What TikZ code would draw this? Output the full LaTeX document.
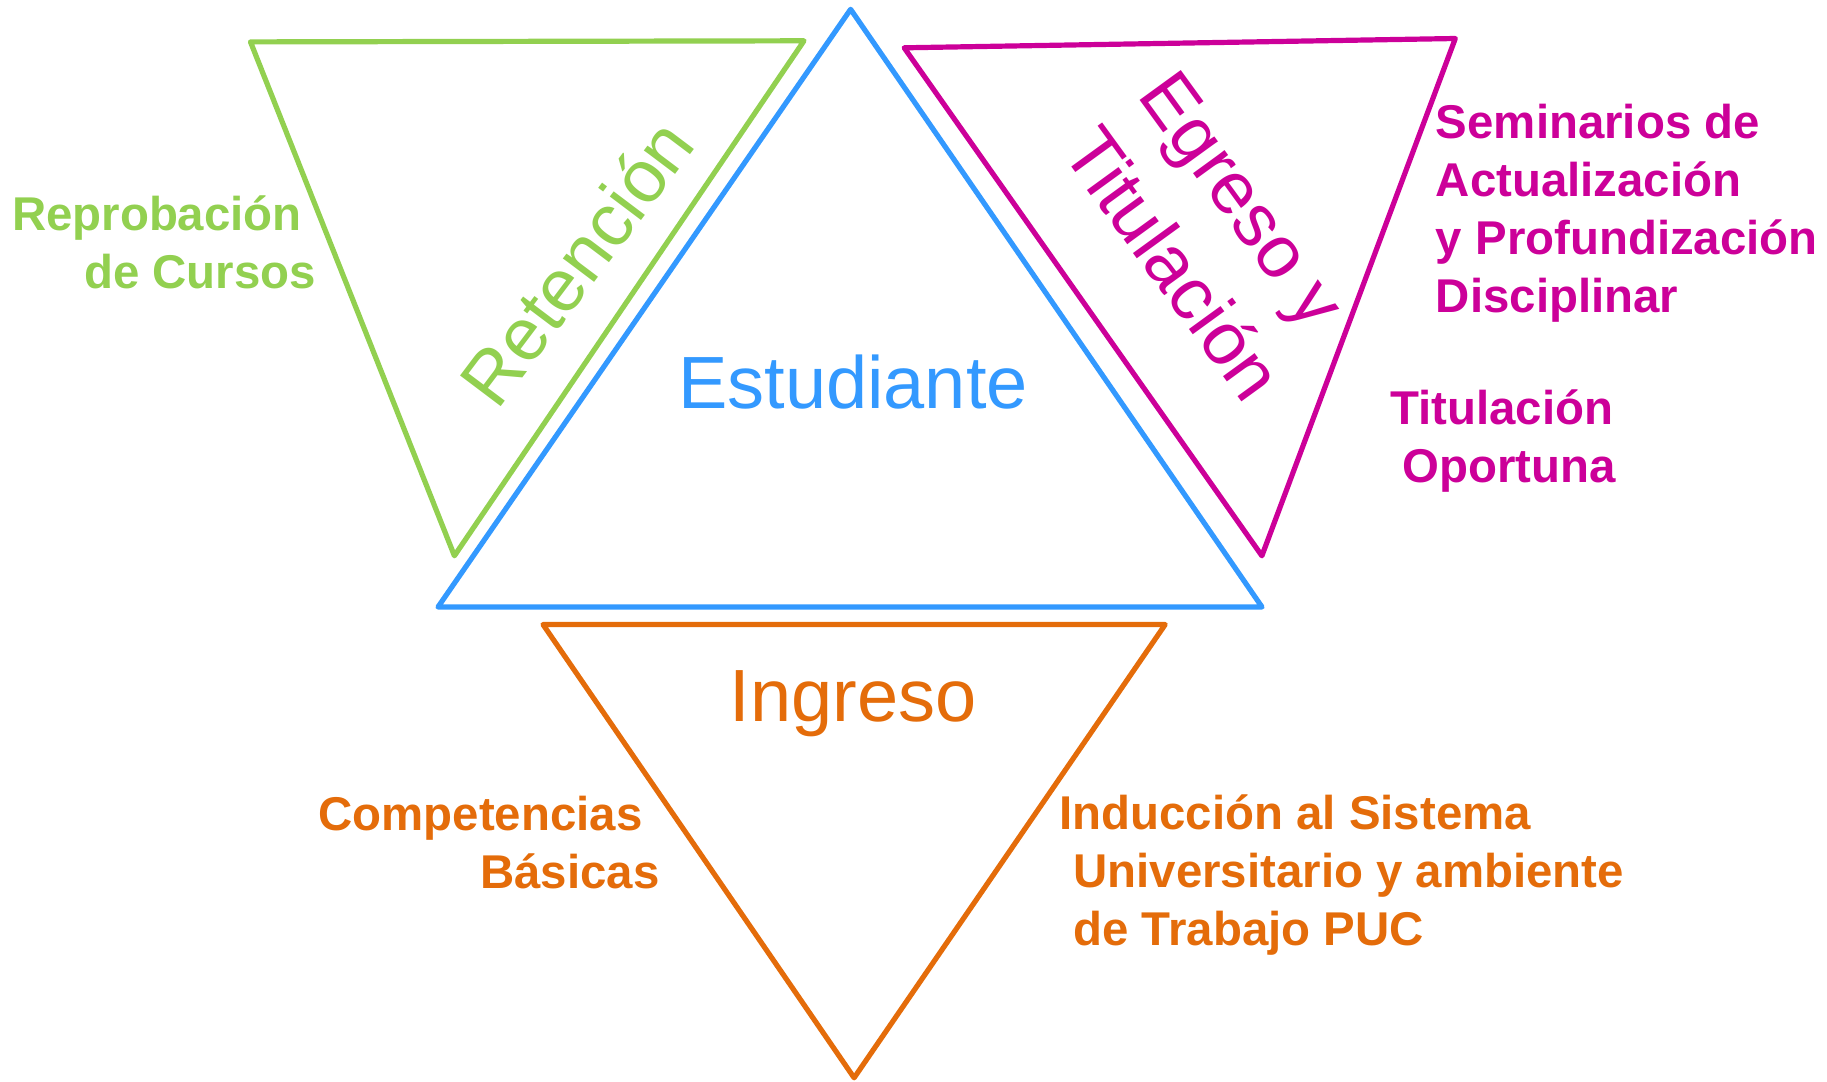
\documentclass[tikz,border=0pt]{standalone}
\usepackage{fontspec}
\setmainfont{Liberation Sans}
\definecolor{verde}{RGB}{146,208,80}
\definecolor{azul}{RGB}{51,153,255}
\definecolor{rosa}{RGB}{204,0,153}
\definecolor{naranja}{RGB}{228,108,10}

\begin{document}
\begin{tikzpicture}[x=0.5pt,y=-0.5pt]
\tikzstyle{tri} = [line width=2.6pt, line join=round]
\tikzstyle{big} = [font=\fontsize{37}{44}\selectfont, inner sep=0pt]
\tikzstyle{rot} = [font=\fontsize{37}{47.5}\selectfont, inner sep=0pt, align=left]
\tikzstyle{note} = [font=\bfseries\fontsize{23.7}{29}\selectfont, inner sep=0pt, align=left, anchor=base west]
\useasboundingbox (0,0) rectangle (1827,1082);
% vertices
\coordinate (ET) at (850.6,9.3);
\coordinate (EL) at (438,607);
\coordinate (ER) at (1262,607);
\coordinate (RL) at (250.5,41.9);
\coordinate (RR) at (804,40.8);
\coordinate (RB) at (454.4,555.8);
\coordinate (GL) at (904.2,47.8);
\coordinate (GR) at (1455.3,38.5);
\coordinate (GB) at (1261.9,555.8);
\coordinate (IL) at (543,624.5);
\coordinate (IR) at (1165.2,624.5);
\coordinate (IB) at (854.1,1077.8);
% triangles
\draw[tri,azul] (ET) -- (EL) -- (ER) -- cycle;
\draw[tri,verde] (RL) -- (RR) -- (RB) -- cycle;
\draw[tri,rosa] (GL) -- (GR) -- (GB) -- cycle;
\draw[tri,naranja] (IL) -- (IR) -- (IB) -- cycle;
% titles
\node[big,azul] (Est) at (853,382) {Estudiante};
\node[big,naranja] (Ing) at (853,704) {Ingreso};
\node[rot,verde,rotate=53] (Ret) at (576,262) {Retención};
\node[rot,rosa,rotate=-54] (Egr) at (1211,236) {Egreso y\\Titulación};
% notes (anchored at the last line)
\node[note,verde] (Rep) at (11.7,288) {Reprobación\\\hspace*{36pt}de Cursos};
\node[note,rosa] (Sem) at (1435.5,312) {Seminarios de\\Actualización\\y Profundización\\Disciplinar};
\node[note,rosa] (Tit) at (1390,482) {Titulación\\\hspace*{6pt}Oportuna};
\node[note,naranja] (Com) at (318,888) {Competencias\\\hspace*{81pt}Básicas};
\node[note,naranja] (Ind) at (1059,945) {Inducción al Sistema\\\hspace*{7pt}Universitario y ambiente\\\hspace*{7pt}de Trabajo PUC};
\end{tikzpicture}
\end{document}
